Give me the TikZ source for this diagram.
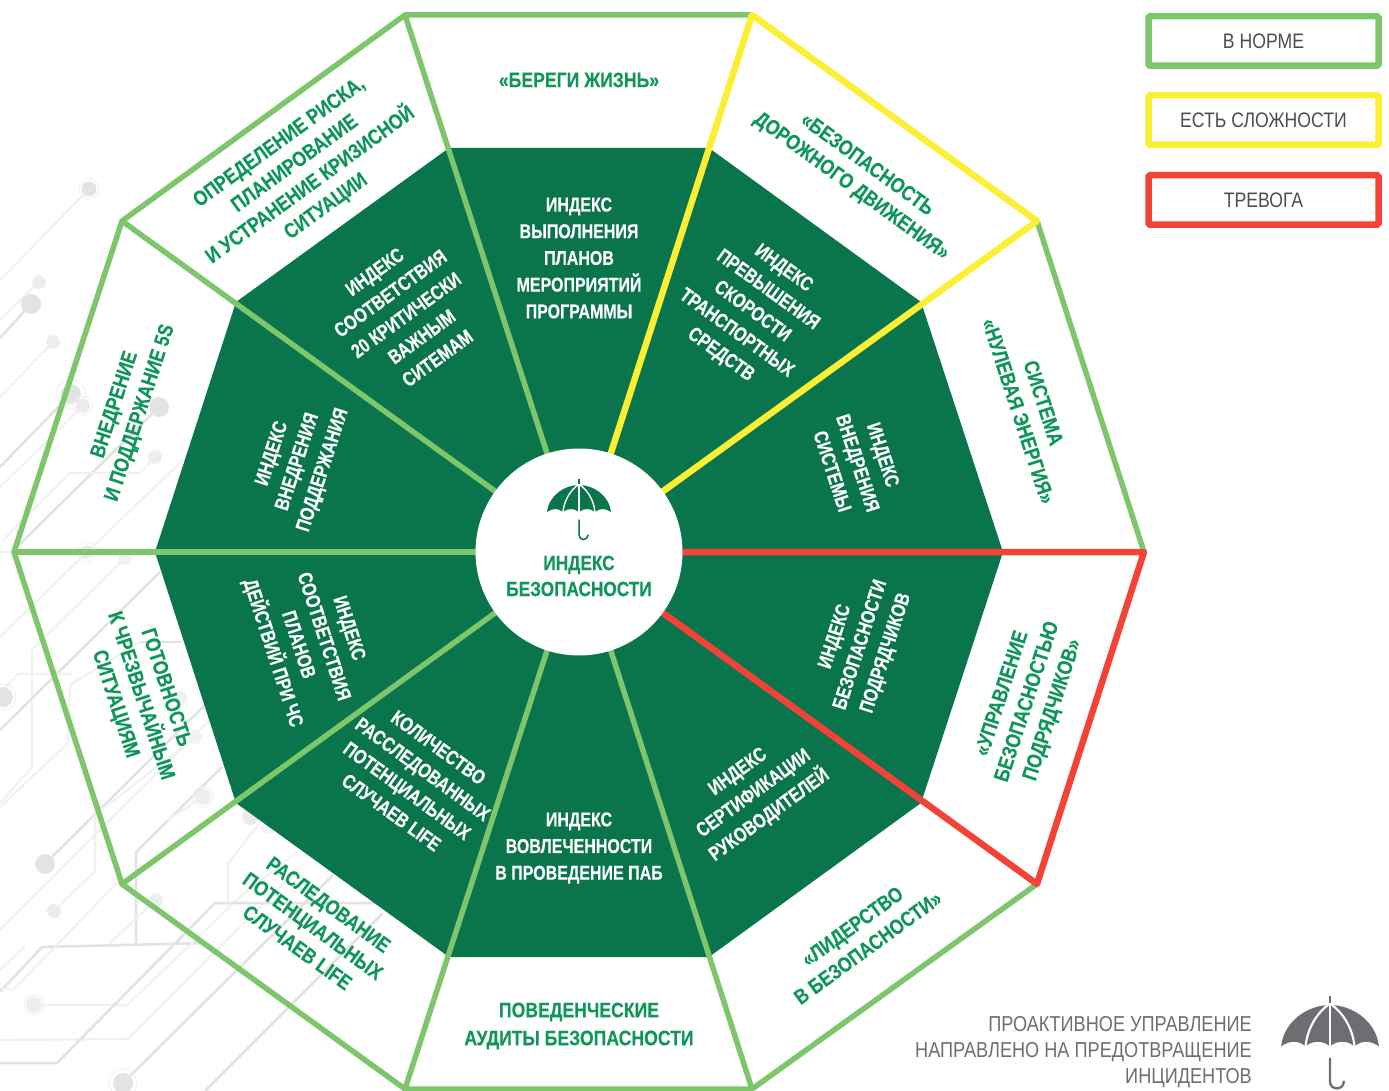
\documentclass[tikz,border=0pt]{standalone}
\usepackage{fontspec}
\setmainfont{Liberation Sans}[FakeStretch=0.84,BoldFeatures={FakeBold=0.25}]
\newfontfamily\innerface{Liberation Sans}[FakeStretch=0.8,BoldFeatures={FakeBold=0.25}]
\definecolor{dkgreen}{HTML}{0A754C}
\definecolor{ltgreen}{HTML}{7DC66C}
\definecolor{txtgreen}{HTML}{10965A}
\definecolor{ylw}{HTML}{FBEE33}
\definecolor{alarm}{HTML}{F44336}
\definecolor{greyicon}{HTML}{6D6E71}
\definecolor{legtxt}{HTML}{4D4D4D}
\definecolor{trace}{HTML}{E3E3E3}
\definecolor{tracelt}{HTML}{F1F1F1}
\definecolor{dot}{HTML}{E2E3E3}
\newcommand{\umbrellaicon}[4]{%
  \begin{scope}[shift={(#1,#2)},scale=#3]
    \fill[#4] (-32,27) .. controls (-30,10) and (-14,0) .. (0,0) .. controls (14,0) and (30,10) .. (32,27)
      .. controls (26,23) and (21,23) .. (16,27) .. controls (11,23) and (5,23) .. (0,27)
      .. controls (-5,23) and (-11,23) .. (-16,27) .. controls (-21,23) and (-26,23) .. (-32,27) -- cycle;
    \draw[white,line width=#3*1.4pt] (0,-1) -- (0,27);
    \draw[white,line width=#3*1.4pt] (0,-1) .. controls (-10,6) and (-15,17) .. (-16,27);
    \draw[white,line width=#3*1.4pt] (0,-1) .. controls (10,6) and (15,17) .. (16,27);
    \draw[#4,line width=#3*1.5pt] (0,-6) -- (0,-1);
    \draw[#4,line width=#3*1.5pt,line cap=round] (0,35) -- (0,50) .. controls (0,56) and (9,56) .. (9,50);
  \end{scope}}
\tikzset{
  inner label/.style={text=white,font=\innerface\bfseries\fontsize{20}{26.7}\selectfont,align=center,inner sep=0pt},
  outer label/.style={text=txtgreen,font=\bfseries\fontsize{21}{26.5}\selectfont,align=center,inner sep=0pt},
  rim/.style={line width=5.5pt,line cap=round,line join=round},
  legend box/.style={draw=#1,line width=6.5pt,rounded corners=1.5pt,minimum width=230pt,minimum height=49.5pt,inner sep=0pt,
    text=legtxt,font=\fontsize{21}{25}\selectfont},
  tr/.style={trace,line width=2.6pt,line join=round},
  trl/.style={tracelt,line width=2.2pt,line join=round},
  dotring/.style={tracelt,line width=1pt},
}
\begin{document}
\begin{tikzpicture}[x=1pt,y=-1pt]
\useasboundingbox (0,0) rectangle (1389,1091);
% background circuit traces
\draw[trl] (89,189) -- (0,280);
\draw[trl] (39,282) -- (0,320);
\draw[tr] (31,304) -- (0,338);
\draw[trl] (53,342) -- (0,397);
\draw[tr] (71,394) -- (0,467);
\draw[trl] (83,406) -- (0,487);
\draw[tr] (159,407) -- (17,547);
\draw[trl] (155,457) -- (140,473) -- (70,473) -- (3,540);
\draw[trl] (183,460) -- (87,552) -- (0,637);
\draw[trl] (0,552) -- (14,552);
\draw[trl] (125,558) -- (32,650) -- (32,767) -- (0,803);
\draw[tr] (160,572) -- (0,730);
\draw[tr] (182,642) -- (140,642);
\draw[trl] (140,642) -- (70,685) -- (68,743) -- (0,807);
\draw[trl] (72,674) -- (18,674) -- (0,693);
\draw[tr] (45,864) -- (215,695);
\draw[trl] (54,911) -- (95,871) -- (95,815) -- (195,737);
\draw[trl] (215,715) -- (0,930);
\draw[tr] (136,943) -- (136,852) -- (222,767);
\draw[trl] (203,797) -- (167,820);
\draw[trl] (156,900) -- (110,943);
\draw[tr] (0,992) -- (42,947) -- (207,943);
\draw[trl] (25,946) -- (0,970);
\draw[trl] (0,988) -- (13,990) -- (120,880);
\draw[trl] (34,1005) -- (127,1005) -- (240,897) -- (297,852);
\draw[trl] (0,1040) -- (128,1039) -- (300,867);
\draw[tr] (0,1063) -- (57,1063) -- (215,903) -- (377,903);
\draw[tr] (123,1083) -- (333,875);
\draw[tr] (205,1091) -- (383,913);
\draw[trl] (228,902) -- (228,863) -- (260,823);
\fill[dot] (89,189) circle (7.5); \draw[dotring] (89,189) circle (10);
\fill[dot!60] (39,282) circle (7);
\fill[dot] (31,304) circle (10);
\fill[dot!60] (53,342) circle (7);
\fill[dot] (71,394) circle (10); \draw[dotring] (71,394) circle (14.5);
\fill[dot!70] (83,406) circle (7); \draw[dotring] (83,406) circle (9.5);
\fill[dot] (159,407) circle (10);
\fill[dot!60] (155,457) circle (7);
\fill[dot!70] (87,552) circle (7); \draw[dotring] (87,552) circle (10);
\fill[dot!50] (125,558) circle (7);
\fill[dot!50] (180,698) circle (7);
\fill[dot!50] (195,737) circle (7);
\fill[dot] (3,697) circle (10); \draw[dotring] (3,697) circle (13);
\fill[dot] (45,864) circle (10);
\fill[dot!70] (54,911) circle (7);
\fill[dot!60] (156,900) circle (7);
\fill[dot!60] (203,797) circle (8); \draw[dotring] (203,797) circle (10);
\fill[dot!60] (34,1005) circle (8); \draw[dotring] (34,1005) circle (10);
\fill[dot] (123,1083) circle (10); \draw[dotring] (123,1083) circle (14);
\fill[dot!70] (250,817) circle (8);
\fill[dot!40] (267,828) circle (6);
% vertices
\coordinate (o1) at (405,15);
\coordinate (o2) at (752,15);
\coordinate (o3) at (1037,221);
\coordinate (o4) at (1144,552);
\coordinate (o5) at (1037,884);
\coordinate (o6) at (752,1089);
\coordinate (o7) at (405,1089);
\coordinate (o8) at (122,884);
\coordinate (o9) at (14,552);
\coordinate (o10) at (122,221);
\coordinate (hub) at (579,552);
% dark inner decagon
\fill[dkgreen] (449,148) -- (709,148) -- (921,302) -- (1003,552) -- (921,803) -- (709,957) -- (449,957) -- (236,803) -- (155,552) -- (236,302) -- cycle;
% spokes and rim
\draw[rim,ltgreen] (hub) -- (o1);
\draw[rim,ltgreen] (hub) -- (o6);
\draw[rim,ltgreen] (hub) -- (o7);
\draw[rim,ltgreen] (hub) -- (o8);
\draw[rim,ltgreen] (hub) -- (o9);
\draw[rim,ltgreen] (hub) -- (o10);
\draw[rim,ltgreen] (o3) -- (o4);
\draw[rim,ltgreen] (o5) -- (o6) -- (o7) -- (o8) -- (o9) -- (o10) -- (o1) -- (o2);
\draw[rim,ylw,line width=6.5pt] (hub) -- (o2) -- (o3) -- (hub);
\draw[rim,alarm,line width=6.5pt] (hub) -- (o4) -- (o5) -- (hub);
% hub
\node[circle,fill=white,minimum size=207pt,inner sep=0pt] (hubdisc) at (hub) {};
\umbrellaicon{579}{485}{1}{dkgreen}
\node[outer label,font=\bfseries\fontsize{20.5}{26}\selectfont] (hubtext) at (579,576) {ИНДЕКС\\БЕЗОПАСНОСТИ};
% inner labels
\node[inner label] (i1) at (579,258) {ИНДЕКС\\ВЫПОЛНЕНИЯ\\ПЛАНОВ\\МЕРОПРИЯТИЙ\\ПРОГРАММЫ};
\node[inner label,rotate=-36] (i2) at (752,312) {ИНДЕКС\\ПРЕВЫШЕНИЯ\\СКОРОСТИ\\ТРАНСПОРТНЫХ\\СРЕДСТВ};
\node[inner label,rotate=-72] (i3) at (858,463) {ИНДЕКС\\ВНЕДРЕНИЯ\\СИСТЕМЫ};
\node[inner label,rotate=72] (i4) at (861,645) {ИНДЕКС\\БЕЗОПАСНОСТИ\\ПОДРЯДЧИКОВ};
\node[inner label,rotate=36] (i5) at (754,794) {ИНДЕКС\\СЕРТИФИКАЦИИ\\РУКОВОДИТЕЛЕЙ};
\node[inner label] (i6) at (579,848) {ИНДЕКС\\ВОВЛЕЧЕННОСТИ\\В ПРОВЕДЕНИЕ ПАБ};
\node[inner label,rotate=-36] (i7) at (415,780) {КОЛИЧЕСТВО\\РАССЛЕДОВАННЫХ\\ПОТЕНЦИАЛЬНЫХ\\СЛУЧАЕВ LIFE};
\node[inner label,rotate=-72] (i8) at (310,641) {ИНДЕКС\\СООТВЕТСТВИЯ\\ПЛАНОВ\\ДЕЙСТВИЙ ПРИ ЧС};
\node[inner label,rotate=72] (i9) at (298,462) {ИНДЕКС\\ВНЕДРЕНИЯ\\ПОДДЕРЖАНИЯ};
\node[inner label,rotate=36] (i10) at (406,315) {ИНДЕКС\\СООТВЕТСТВИЯ\\20 КРИТИЧЕСКИ\\ВАЖНЫМ\\СИТЕМАМ};
% outer labels
\node[outer label] (t1) at (579,80) {«БЕРЕГИ ЖИЗНЬ»};
\node[outer label,rotate=-36] (t2) at (859,176) {«БЕЗОПАСНОСТЬ\\ДОРОЖНОГО ДВИЖЕНИЯ»};
\node[outer label,rotate=-72] (t3) at (1031,407) {СИСТЕМА\\«НУЛЕВАЯ ЭНЕРГИЯ»};
\node[outer label,rotate=72] (t4) at (1028,702) {«УПРАВЛЕНИЕ\\БЕЗОПАСНОСТЬЮ\\ПОДРЯДЧИКОВ»};
\node[outer label,rotate=36] (t5) at (860,937) {«ЛИДЕРСТВО\\В БЕЗОПАСНОСТИ»};
\node[outer label,font=\bfseries\fontsize{21}{28}\selectfont] (t6) at (579,1026) {ПОВЕДЕНЧЕСКИЕ\\АУДИТЫ БЕЗОПАСНОСТИ};
\node[outer label,rotate=-36] (t7) at (313,926) {РАСЛЕДОВАНИЕ\\ПОТЕНЦИАЛЬНЫХ\\СЛУЧАЕВ LIFE};
\node[outer label,rotate=-72] (t8) at (140,696) {ГОТОВНОСТЬ\\К ЧРЕЗВЫЧАЙНЫМ\\СИТУАЦИЯМ};
\node[outer label,rotate=72] (t9) at (128,409) {ВНЕДРЕНИЕ\\И ПОДДЕРЖАНИЕ 5S};
\node[outer label,rotate=36] (t10) at (303,175) {ОПРЕДЕЛЕНИЕ РИСКА,\\ПЛАНИРОВАНИЕ\\И УСТРАНЕНИЕ КРИЗИСНОЙ\\СИТУАЦИИ};
% legend
\node[legend box=ltgreen] (l1) at (1263.5,41) {В НОРМЕ};
\node[legend box=ylw] (l2) at (1263.5,120) {ЕСТЬ СЛОЖНОСТИ};
\node[legend box=alarm] (l3) at (1263.5,200) {ТРЕВОГА};
% footer
\node[anchor=east,text=greyicon,font=\fontsize{21.6}{26}\selectfont,align=right,inner sep=0pt] (foot) at (1252,1052) {ПРОАКТИВНОЕ УПРАВЛЕНИЕ\\НАПРАВЛЕНО НА ПРЕДОТВРАЩЕНИЕ\\ИНЦИДЕНТОВ};
\umbrellaicon{1330}{1005}{1.53}{greyicon}
\end{tikzpicture}
\end{document}
